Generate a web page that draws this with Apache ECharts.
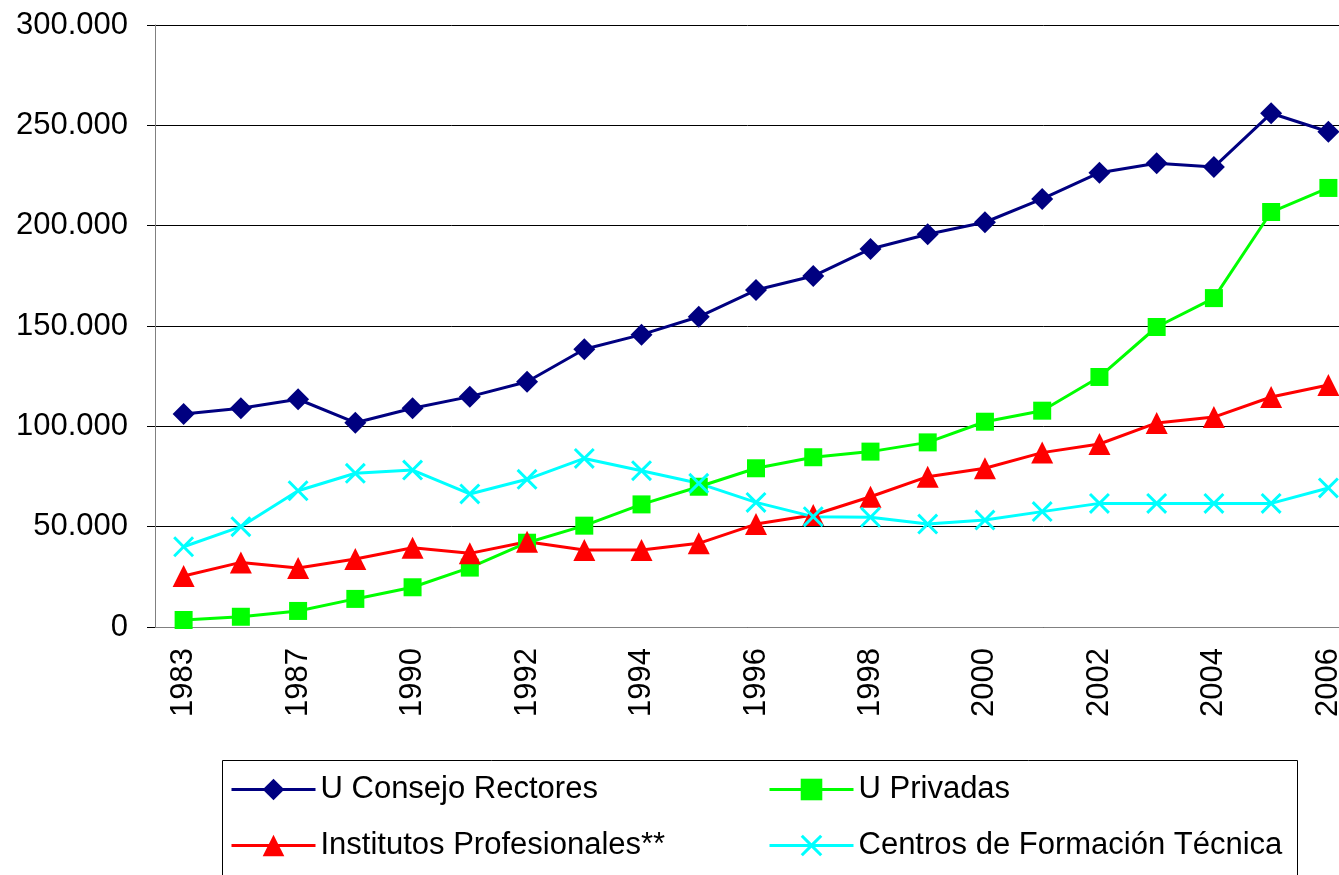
<!DOCTYPE html>
<html>
<head>
<meta charset="utf-8">
<title>Matrícula</title>
<script src="https://cdn.jsdelivr.net/npm/echarts@6/dist/echarts.min.js"></script>
<style>
  html, body { margin: 0; padding: 0; background: #fff; }
  #chart { width: 1339px; height: 875px; }
</style>
</head>
<body>
<div id="chart"></div>
<script>
// años (las etiquetas se muestran una sí, una no)
const years = ['1983', '1985', '1987', '1989', '1990', '1991', '1992', '1993', '1994', '1995',
  '1996', '1997', '1998', '1999', '2000', '2001', '2002', '2003', '2004', '2005', '2006'];

const consejoRectores = [106100, 109000, 113500, 101800, 109000, 114800, 122200, 138400, 145700, 154600,
  167900, 174900, 188400, 195700, 201700, 213300, 226400, 231100, 229200, 256000, 246800];
const privadas = [3500, 5100, 8000, 14000, 19800, 29600, 42000, 50500, 61100, 69900,
  79100, 84600, 87400, 92000, 102300, 107800, 124600, 149500, 163900, 206800, 218800];
const institutos = [25400, 32200, 29400, 33900, 39500, 36700, 42500, 38400, 38400, 41700,
  51300, 55800, 64900, 74900, 79100, 86900, 91200, 101700, 104600, 114600, 120600];
const centrosFT = [40000, 50000, 67900, 76600, 78200, 66300, 73600, 84000, 77900, 71600,
  62100, 55000, 54700, 51300, 53300, 57500, 61600, 61600, 61600, 61600, 69300];

const seriesNames = ['U Consejo Rectores', 'U Privadas', 'Institutos Profesionales**', 'Centros de Formación Técnica'];

const font = "'Liberation Sans', Arial, sans-serif";
// símbolo "x" de Excel
const xMark = 'path://M0,2L2,0L10,8L18,0L20,2L12,10L20,18L18,20L10,12L2,20L0,18L8,10Z';

const chart = echarts.init(document.getElementById('chart'));

function lineSeries(name, data, color, symbol, size) {
  return {
    name: name,
    type: 'line',
    data: data,
    symbol: symbol,
    symbolSize: size,
    showAllSymbol: true,
    lineStyle: { color: color, width: 3 },
    itemStyle: { color: color },
    emphasis: { disabled: true }
  };
}

const legendBase = {
  orient: 'vertical',
  top: 774,
  padding: 0,
  itemWidth: 84,
  itemHeight: 27,
  itemGap: 25,
  lineStyle: { width: 3 },
  textStyle: { fontSize: 31, lineHeight: 27, color: '#000', fontFamily: font }
};

const option = {
  animation: false,
  textStyle: { fontFamily: font },
  // el área de trazado sigue más allá del borde derecho
  grid: { left: 155, top: 25, width: 1202, bottom: 248, outerBoundsMode: 'none' },
  xAxis: {
    type: 'category',
    data: years,
    boundaryGap: true,
    axisLine: { lineStyle: { color: '#808080', width: 1 } },
    axisTick: { interval: 0, length: 9, lineStyle: { color: '#000' } },
    axisLabel: {
      interval: 1,
      rotate: 90,
      margin: 21,
      color: '#000',
      fontSize: 31,
      fontFamily: font
    },
    splitLine: { show: false }
  },
  yAxis: {
    type: 'value',
    min: 0,
    max: 300000,
    interval: 50000,
    axisLine: { show: true, lineStyle: { color: '#808080', width: 1 } },
    axisTick: { show: true, length: 8, lineStyle: { color: '#000' } },
    axisLabel: {
      margin: 27,
      color: '#000',
      fontSize: 31,
      fontFamily: font,
      formatter: v => String(v).replace(/\B(?=(\d{3})+(?!\d))/g, '.')
    },
    splitLine: { lineStyle: { color: '#000', width: 1 } }
  },
  legend: [
    Object.assign({}, legendBase, { data: [seriesNames[0], seriesNames[2]], left: 230 }),
    Object.assign({}, legendBase, { data: [seriesNames[1], seriesNames[3]], left: 768 })
  ],
  graphic: [
    {
      type: 'rect',
      shape: { x: 222.5, y: 760.5, width: 1075, height: 140 },
      style: { fill: 'none', stroke: '#000', lineWidth: 1 },
      silent: true
    }
  ],
  series: [
    lineSeries(seriesNames[0], consejoRectores, '#000080', 'diamond', 22),
    lineSeries(seriesNames[1], privadas, '#00FF00', 'rect', 18),
    lineSeries(seriesNames[2], institutos, '#FF0000', 'triangle', 22),
    lineSeries(seriesNames[3], centrosFT, '#00FFFF', xMark, 21)
  ]
};

chart.setOption(option);
</script>
</body>
</html>
